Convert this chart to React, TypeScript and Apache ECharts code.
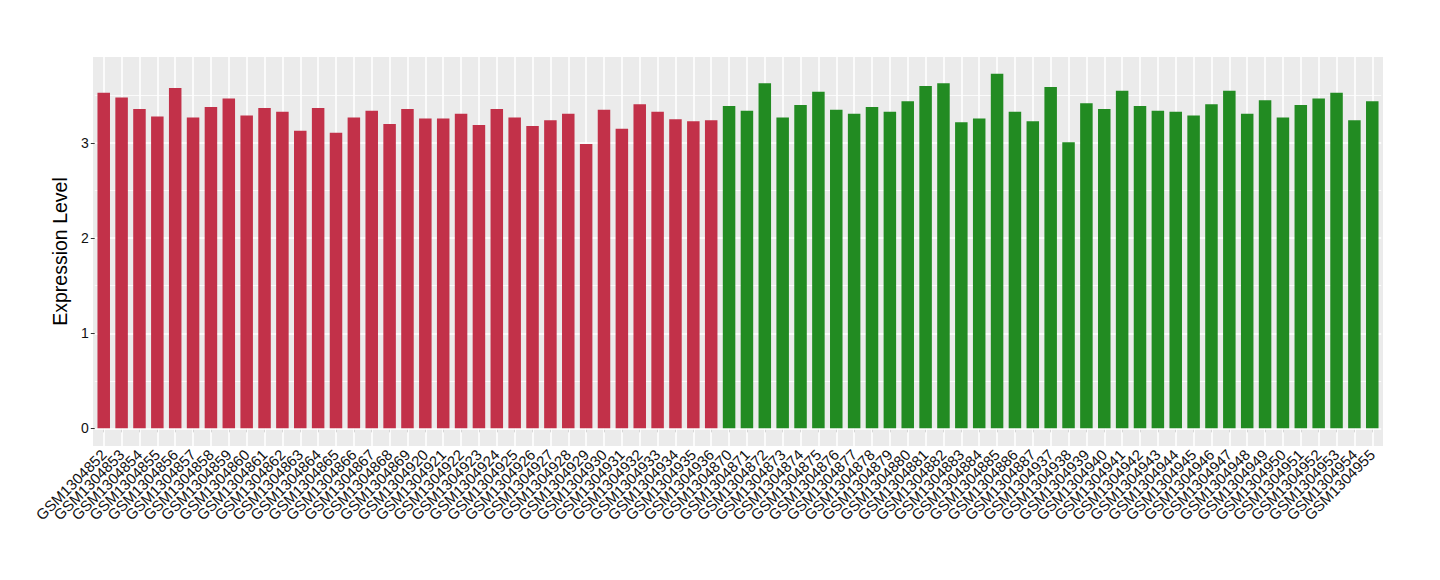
import React, { useEffect, useRef } from "react";
import * as echarts from "echarts";

const samples: string[] = [
  "GSM1304852","GSM1304853","GSM1304854","GSM1304855","GSM1304856","GSM1304857","GSM1304858","GSM1304859","GSM1304860",
  "GSM1304861","GSM1304862","GSM1304863","GSM1304864","GSM1304865","GSM1304866","GSM1304867","GSM1304868","GSM1304869",
  "GSM1304920","GSM1304921","GSM1304922","GSM1304923","GSM1304924","GSM1304925","GSM1304926","GSM1304927","GSM1304928",
  "GSM1304929","GSM1304930","GSM1304931","GSM1304932","GSM1304933","GSM1304934","GSM1304935","GSM1304936",
  "GSM1304870","GSM1304871","GSM1304872","GSM1304873","GSM1304874","GSM1304875","GSM1304876","GSM1304877","GSM1304878",
  "GSM1304879","GSM1304880","GSM1304881","GSM1304882","GSM1304883","GSM1304884","GSM1304885","GSM1304886","GSM1304887",
  "GSM1304937","GSM1304938","GSM1304939","GSM1304940","GSM1304941","GSM1304942","GSM1304943","GSM1304944","GSM1304945",
  "GSM1304946","GSM1304947","GSM1304948","GSM1304949","GSM1304950","GSM1304951","GSM1304952","GSM1304953","GSM1304954",
  "GSM1304955",
];

const values: number[] = [
  3.53, 3.48, 3.36, 3.28, 3.58, 3.27, 3.38, 3.47, 3.29,
  3.37, 3.33, 3.13, 3.37, 3.11, 3.27, 3.34, 3.20, 3.36,
  3.26, 3.26, 3.31, 3.19, 3.36, 3.27, 3.18, 3.24, 3.31,
  2.99, 3.35, 3.15, 3.41, 3.33, 3.25, 3.23, 3.24,
  3.39, 3.34, 3.63, 3.27, 3.40, 3.54, 3.35, 3.31, 3.38,
  3.33, 3.44, 3.60, 3.63, 3.22, 3.26, 3.73, 3.33, 3.23,
  3.59, 3.01, 3.42, 3.36, 3.55, 3.39, 3.34, 3.33, 3.29,
  3.41, 3.55, 3.31, 3.45, 3.27, 3.40, 3.47, 3.53, 3.24,
  3.44,
];

const groupSizes: number[] = [35, 37];
const groupColors: string[] = ["#C23149", "#228B22"];

const yTicks: number[] = [0, 1, 2, 3];
const yMinorTicks: number[] = [0.5, 1.5, 2.5, 3.5];
const yMin = -0.186;
const yMax = 3.906;

export default function App() {
  const ref = useRef<HTMLDivElement>(null);

  useEffect(() => {
    if (!ref.current) return;
    const chart = echarts.init(ref.current, undefined, { renderer: "svg" });

    const colorFor = (i: number) => (i < groupSizes[0] ? groupColors[0] : groupColors[1]);
    const barData = values.map((v, i) => ({ value: v, itemStyle: { color: colorFor(i) } }));

    const gridLines: any[] = [
      ...yTicks.map((t) => ({ yAxis: t, lineStyle: { width: 1.6 } })),
      ...yMinorTicks.map((t) => ({ yAxis: t, lineStyle: { width: 0.8 } })),
      ...samples.map((s) => ({ xAxis: s, lineStyle: { width: 1.6 } })),
    ];

    const font = "'Liberation Sans', Arial, Helvetica, sans-serif";

    chart.setOption({
      animation: false,
      textStyle: { fontFamily: font },
      graphic: [
        {
          type: "rect",
          z: -100,
          silent: true,
          shape: { x: 93, y: 57, width: 1290, height: 389 },
          style: { fill: "#EBEBEB" },
        },
      ],
      grid: { left: 94.8, right: 58.8, top: 57, bottom: 134, containLabel: false },
      xAxis: {
        type: "category",
        data: samples,
        axisLine: { show: false },
        axisTick: { show: true, alignWithLabel: true, length: 4, lineStyle: { color: "#333333", width: 1 } },
        axisLabel: {
          interval: 0,
          rotate: 45,
          fontSize: 15,
          color: "#111111",
          margin: 6,
          fontFamily: font,
        },
        splitLine: { show: false },
      },
      yAxis: {
        type: "value",
        min: yMin,
        max: yMax,
        name: "Expression Level",
        nameLocation: "middle",
        nameGap: 16,
        nameTextStyle: { fontSize: 19.5, color: "#000000", fontFamily: font },
        axisLine: { show: false },
        axisTick: { show: true, length: 4, customValues: yTicks, lineStyle: { color: "#333333", width: 1 } },
        axisLabel: { customValues: yTicks, fontSize: 14, color: "#111111", margin: 6, fontFamily: font },
        splitLine: { show: false },
      },
      series: [
        {
          type: "bar",
          data: barData,
          barWidth: "70%",
          z: 2,
          markLine: {
            z: 1,
            silent: true,
            symbol: "none",
            label: { show: false },
            lineStyle: { color: "#FFFFFF", type: "solid" },
            data: gridLines,
          },
        },
      ],
    });

    return () => chart.dispose();
  }, []);

  return (
    <div
      ref={ref}
      style={{ position: "absolute", left: 0, top: 0, width: 1440, height: 580 }}
    />
  );
}
